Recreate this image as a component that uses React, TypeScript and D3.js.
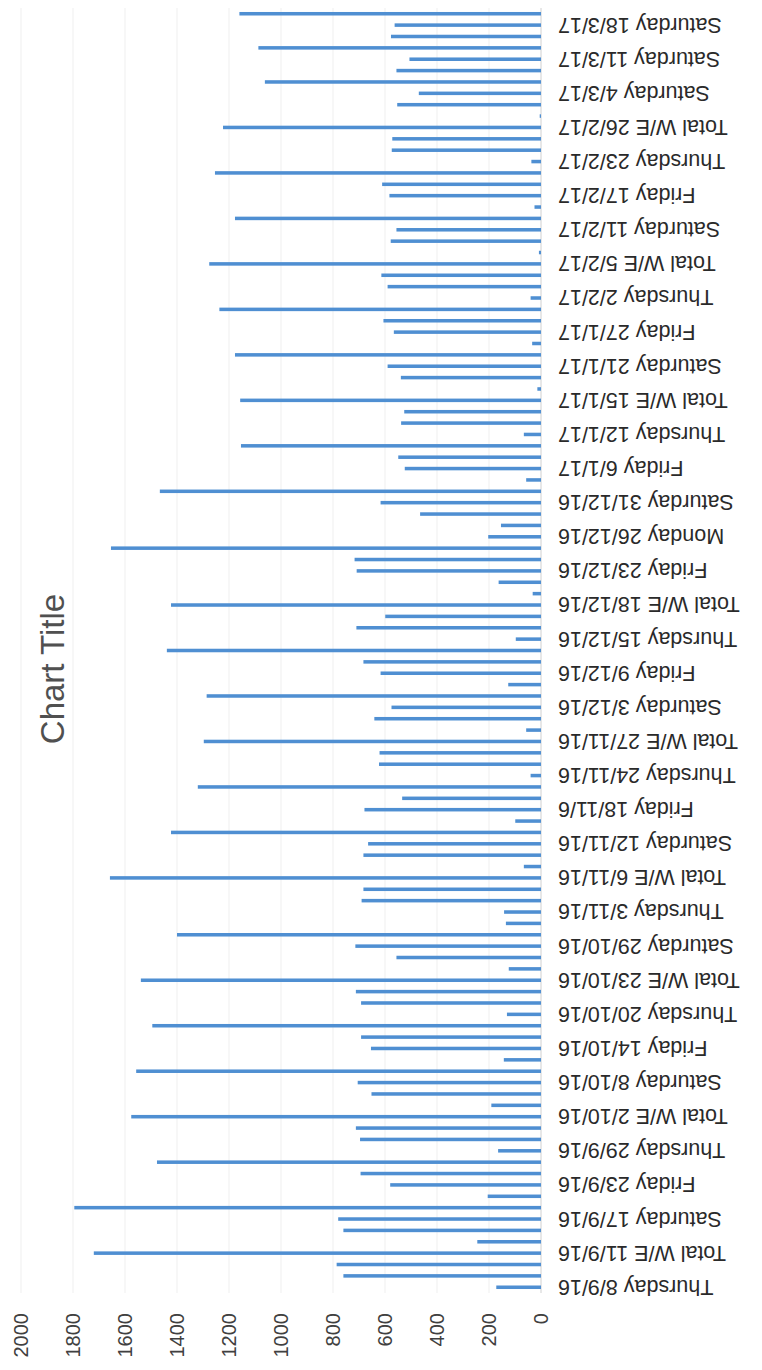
import React from 'react';
import * as d3 from 'd3';

const categories: string[] = [
  'Thursday 8/9/16', 'Friday 9/9/16', 'Saturday 10/9/16', 'Total W/E 11/9/16',
  'Thursday 15/9/16', 'Friday 16/9/16', 'Saturday 17/9/16', 'Total W/E 18/9/16',
  'Thursday 22/9/16', 'Friday 23/9/16', 'Saturday 24/9/16', 'Total W/E 25/9/16',
  'Thursday 29/9/16', 'Friday 30/9/16', 'Saturday 1/10/16', 'Total W/E 2/10/16',
  'Thursday 6/10/16', 'Friday 7/10/16', 'Saturday 8/10/16', 'Total W/E 9/10/16',
  'Thursday 13/10/16', 'Friday 14/10/16', 'Saturday 15/10/16', 'Total W/E 16/10/16',
  'Thursday 20/10/16', 'Friday 21/10/16', 'Saturday 22/10/16', 'Total W/E 23/10/16',
  'Thursday 27/10/16', 'Friday 28/10/16', 'Saturday 29/10/16', 'Total W/E 30/10/16',
  'Wednesday 2/11/16', 'Thursday 3/11/16', 'Friday 4/11/16', 'Saturday 5/11/16', 'Total W/E 6/11/16',
  'Thursday 10/11/16', 'Friday 11/11/16', 'Saturday 12/11/16', 'Total W/E 13/11/16',
  'Thursday 17/11/16', 'Friday 18/11/6', 'Saturday 19/11/16', 'Total W/E 20/11/16',
  'Thursday 24/11/16', 'Friday 25/11/16', 'Saturday 26/11/16', 'Total W/E 27/11/16',
  'Thursday 1/12/16', 'Friday 2/12/16', 'Saturday 3/12/16', 'Total W/E 4/12/16',
  'Thursday 8/12/16', 'Friday 9/12/16', 'Saturday 10/12/16', 'Total W/E 11/12/16',
  'Thursday 15/12/16', 'Friday 16/12/16', 'Saturday 17/12/16', 'Total W/E 18/12/16',
  'Wednesday 21/12/16', 'Thursday 22/12/16', 'Friday 23/12/16', 'Saturday 24/12/16', 'Total W/E 25/12/16',
  'Monday 26/12/16', 'Thursday 29/12/16', 'Friday 30/12/16', 'Saturday 31/12/16', 'Total W/E 1/1/17',
  'Thursday 5/1/17', 'Friday 6/1/17', 'Saturday 7/1/17', 'Total W/E 8/1/17',
  'Thursday 12/1/17', 'Friday 13/1/17', 'Saturday 14/1/17', 'Total W/E 15/1/17',
  'Thursday 19/1/17', 'Friday 20/1/17', 'Saturday 21/1/17', 'Total W/E 22/1/17',
  'Thursday 26/1/17', 'Friday 27/1/17', 'Saturday 28/1/17', 'Total W/E 29/1/17',
  'Thursday 2/2/17', 'Friday 3/2/17', 'Saturday 4/2/17', 'Total W/E 5/2/17',
  'Thursday 9/2/17', 'Friday 10/2/17', 'Saturday 11/2/17', 'Total W/E 12/2/17',
  'Thursday 16/2/17', 'Friday 17/2/17', 'Saturday 18/2/17', 'Total W/E 19/2/17',
  'Thursday 23/2/17', 'Friday 24/2/17', 'Saturday 25/2/17', 'Total W/E 26/2/17',
  'Thursday 2/3/17', 'Friday 3/3/17', 'Saturday 4/3/17', 'Total W/E 5/3/17',
  'Friday 10/3/17', 'Saturday 11/3/17', 'Total W/E 12/3/17',
  'Friday 17/3/17', 'Saturday 18/3/17', 'Total W/E 19/3/17',
];

const values: number[] = [
  172, 760, 786, 1720,
  245, 760, 780, 1795,
  205, 580, 694, 1477,
  165, 696, 712, 1576,
  191, 652, 705, 1557,
  143, 654, 692, 1495,
  131, 692, 712, 1539,
  124, 556, 714, 1400,
  135, 142, 690, 683, 1658,
  66, 683, 665, 1423,
  99, 679, 534, 1320,
  40, 623, 621, 1297,
  57, 641, 575, 1286,
  126, 617, 683, 1439,
  97, 710, 599, 1423,
  32, 163, 709, 717, 1654,
  203, 154, 465, 617, 1466,
  57, 524, 549, 1154,
  66, 538, 526, 1157,
  14, 539, 590, 1177,
  34, 566, 606, 1237,
  40, 590, 614, 1276,
  8, 578, 556, 1177,
  25, 583, 611, 1254,
  37, 574, 572, 1223,
  5, 553, 470, 1062,
  556, 506, 1087,
  577, 563, 1160,
];

const valueTicks: number[] = [0, 200, 400, 600, 800, 1000, 1200, 1400, 1600, 1800, 2000];
const chartTitle = 'Chart Title';
const labelEvery = 3;

// The chart is drawn as a column chart in a 1370 x 762 frame, then rotated -90deg.
const FRAME_W = 1370;
const FRAME_H = 762;

export default function App() {
  const idx = d3.range(categories.length);
  const x = d3
    .scaleBand<number>()
    .domain(idx)
    .range([77, 1362])
    .paddingInner(0.69)
    .paddingOuter(0.35);
  const y = d3.scaleLinear().domain([0, 2000]).range([541, 21]);
  const bw = x.bandwidth();

  return (
    <svg
      width={FRAME_H}
      height={FRAME_W}
      style={{ position: 'absolute', left: 0, top: 0, display: 'block' }}
      fontFamily="'Liberation Sans', Arial, sans-serif"
    >
      <rect width={FRAME_H} height={FRAME_W} fill="#ffffff" />
      <g transform={`translate(0,${FRAME_W}) rotate(-90)`}>
        {valueTicks.map((t) => (
          <line
            key={'g' + t}
            x1={77}
            x2={1362}
            y1={y(t)}
            y2={y(t)}
            stroke={t === 0 ? '#d0d0d0' : '#efefef'}
            strokeWidth={1}
          />
        ))}
        {values.map((v, i) => (
          <rect
            key={'b' + i}
            x={x(i)}
            y={y(v)}
            width={bw}
            height={y(0) - y(v)}
            fill="#4f8fd2"
          />
        ))}
        {valueTicks.map((t) => (
          <text
            key={'t' + t}
            x={57}
            y={y(t)}
            dy="0.35em"
            textAnchor="end"
            fontSize={20}
            fill="#404040"
          >
            {t}
          </text>
        ))}
        {categories.map((c, i) =>
          i % labelEvery === 0 ? (
            <text
              key={'c' + i}
              transform={`translate(${(x(i) as number) + bw / 2},558) rotate(-90)`}
              dy="0.35em"
              textAnchor="end"
              fontSize={21.5}
              fill="#2a2a2a"
            >
              {c}
            </text>
          ) : null
        )}
        <text x={701} y={64} textAnchor="middle" fontSize={33} fill="#505050">
          {chartTitle}
        </text>
      </g>
    </svg>
  );
}
